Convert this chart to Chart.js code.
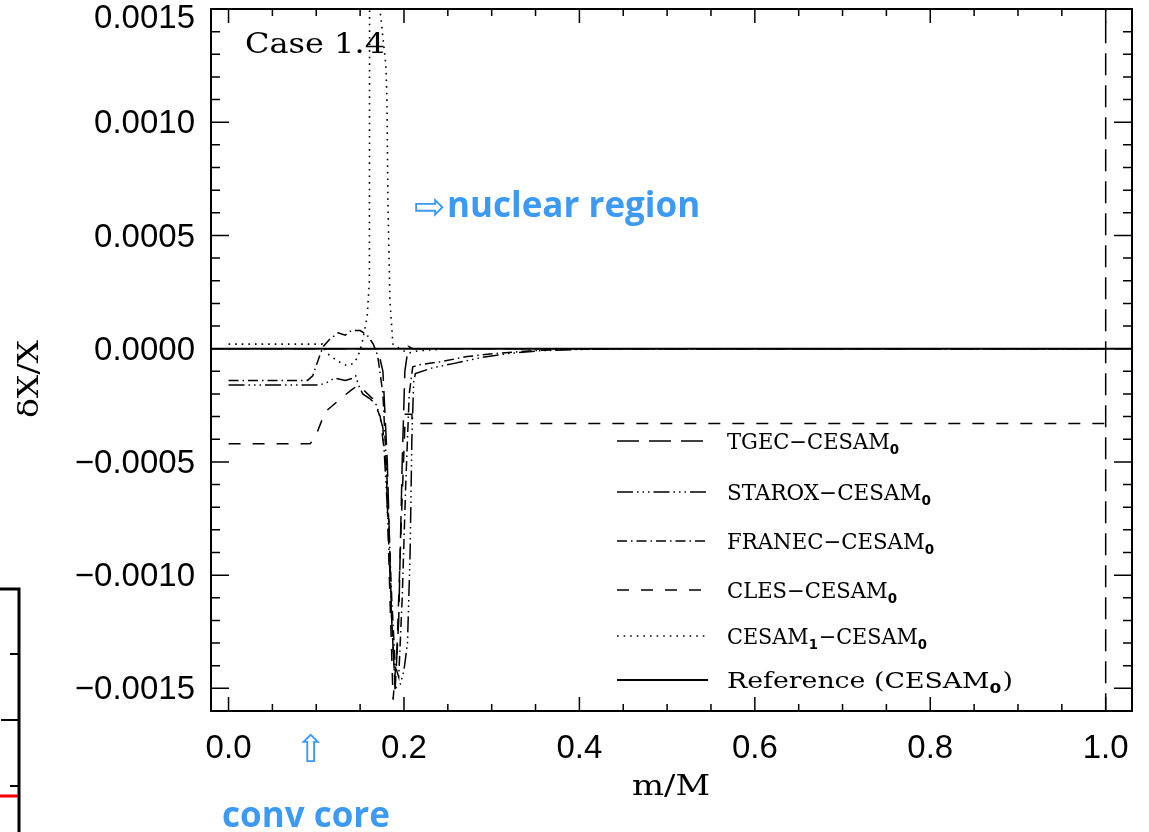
<!DOCTYPE html>
<html>
<head>
<meta charset="utf-8">
<script src="https://cdn.jsdelivr.net/npm/chart.js@4.4.1/dist/chart.umd.min.js"></script>
<style>
  html, body { margin: 0; padding: 0; background: #fff; }
  #wrap { width: 1149px; height: 832px; position: relative; }
</style>
</head>
<body>
<div id="wrap"><canvas id="chart" width="1149" height="832"></canvas></div>
<script>
// m/M and dX/X (Case 1.4)
var xRef = [-0.02, 1.03];
var yRef = [0, 0];

// null breaks the line so the surface spike is one clean vertical
var xTgec = [0, 0.17, 0.176, 0.181, 0.186, 0.19, 0.194, 0.198, 0.201, 0.205, 0.21, 0.999, 1.0, 1.0, 1.0];
var yTgec = [0, 0, -0.0001, -0.0005, -0.0012, -0.0015, -0.0012, -0.0005, -0.0001, 0.00001, 0, 0, null, 0.003, -0.003];

var xStarox = [0, 0.104, 0.112, 0.121, 0.133, 0.142, 0.145, 0.148, 0.153, 0.161, 0.169, 0.171, 0.176, 0.181, 0.186, 0.19, 0.196, 0.2, 0.204, 0.207, 0.209, 0.211, 0.213, 0.233, 0.256, 0.287, 0.318, 0.355, 0.393, 0.45, 1.0];
var yStarox = [-0.00016, -0.00016, -0.00015, -0.00013, -0.00014, -0.00013, -0.00012, -0.00016, -0.0002, -0.00022, -0.00025, -0.00028, -0.00035, -0.0007, -0.0012, -0.0015, -0.00148, -0.00142, -0.0013, -0.0009, -0.0004, -0.00015, -0.00011, -0.000084, -0.000066, -0.00004, -0.000022, -0.000009, -0.000004, 0, 0];

var xFranec = [0, 0.09, 0.096, 0.104, 0.108, 0.115, 0.125, 0.133, 0.14, 0.15, 0.158, 0.165, 0.17, 0.176, 0.181, 0.186, 0.19, 0.194, 0.198, 0.202, 0.206, 0.21, 0.218, 0.241, 0.272, 0.302, 0.346, 0.378, 0.424, 1.0];
var yFranec = [-0.00014, -0.00014, -0.00012, -0.00003, 0.00001, 0.00004, 0.00007, 0.00006, 0.00008, 0.00008, 0.00006, 0.00002, -0.00003, -0.0002, -0.0006, -0.0011, -0.0014, -0.00145, -0.0011, -0.0006, -0.0002, -0.00008, -0.000071, -0.000058, -0.000035, -0.000022, -0.000009, -0.000004, 0, 0];

var xCles = [0, 0.093, 0.099, 0.11, 0.131, 0.141, 0.148, 0.156, 0.164, 0.173, 0.18, 0.184, 0.1876, 0.192, 0.197, 0.2015, 0.209, 0.2095, 1.0];
var yCles = [-0.00042, -0.00042, -0.00039, -0.00028, -0.00021, -0.00018, -0.00016, -0.00019, -0.00022, -0.0003, -0.00054, -0.0011, -0.00155, -0.00133, -0.00076, -0.00029, -0.00029, -0.00033, -0.00033];

var xCesam1 = [0, 0.107, 0.112, 0.119, 0.127, 0.135, 0.142, 0.147, 0.152, 0.155, 0.158, 0.1606, 0.1608, 0.163, 0.168, 0.1726, 0.1794, 0.1806, 0.1817, 0.184, 0.1874, 0.195, 0.205, 0.215, 0.25, 1.0];
var yCesam1 = [0.00002, 0.00002, -0.00002, -0.00004, -0.00006, -0.000075, -0.000066, -0.00004, 0.00002, 0.00008, 0.00014, 0.0003, 0.0015, 0.0022, 0.0024, 0.0015, 0.00125, 0.0011, 0.00065, 0.00021, 0.00002, 0, -0.00002, -0.00001, 0, 0];

var seriesNames = ['TGEC\u2212CESAM_0', 'STAROX\u2212CESAM_0', 'FRANEC\u2212CESAM_0', 'CLES\u2212CESAM_0', 'CESAM_1\u2212CESAM_0', 'Reference (CESAM_0)'];
var xTicks = [0, 0.2, 0.4, 0.6, 0.8, 1.0];
var yTicks = [-0.0015, -0.0010, -0.0005, 0, 0.0005, 0.0010, 0.0015];

function pairs(xs, ys) {
  return xs.map(function (x, i) { return { x: x, y: ys[i] }; });
}

function fmtY(v) {
  var t = Math.abs(v).toFixed(4);
  return v < -1e-9 ? '\u2212' + t : t;
}

var BLUE = '#3d9af2';
var legendRowY = [441, 492, 541, 590, 636, 680];
var legendTextW = [173, 205, 208, 171, 201, 286];

// draw text squeezed/stretched to a given width (the original uses wide vector fonts)
function stretchText(c, text, x, y, width) {
  var w = c.measureText(text).width;
  c.save();
  c.translate(x, y);
  c.scale(width / w, 1);
  c.fillText(text, 0, 0);
  c.restore();
}

// "CESAM_1-CESAM_0" -> small subscripts
function subText(c, label, x, y, width) {
  var parts = label.split(/_(\d)/);
  var big = '22px "DejaVu Serif"', small = 'bold 14px "DejaVu Sans"';
  var total = 0, i;
  for (i = 0; i < parts.length; i++) {
    if (!parts[i]) continue;
    c.font = i % 2 ? small : big;
    total += c.measureText(parts[i]).width + (i % 2 ? 1 : 0);
  }
  c.save();
  c.translate(x, y);
  c.scale(width / total, 1);
  var cx = 0;
  for (i = 0; i < parts.length; i++) {
    if (!parts[i]) continue;
    c.font = i % 2 ? small : big;
    c.fillText(parts[i], cx, i % 2 ? 5 : 0);
    cx += c.measureText(parts[i]).width + (i % 2 ? 1 : 0);
  }
  c.restore();
}

var decor = {
  id: 'decor',
  afterDatasetsDraw: function (chart) {
    var c = chart.ctx, a = chart.chartArea;
    var xs = chart.scales.x, ys = chart.scales.y;
    c.save();
    c.strokeStyle = '#000';
    c.fillStyle = '#000';
    c.setLineDash([]);

    // box
    c.lineWidth = 2;
    c.strokeRect(a.left, a.top, a.right - a.left, a.bottom - a.top);

    // tick marks on all four sides
    c.lineWidth = 1.5;
    c.beginPath();
    for (var i = 0; i <= 20; i++) {
      var p = xs.getPixelForValue(i * 0.05);
      var len = i % 4 === 0 ? 14 : 7;
      c.moveTo(p, a.bottom); c.lineTo(p, a.bottom - len);
      c.moveTo(p, a.top); c.lineTo(p, a.top + len);
    }
    for (var j = -16; j <= 15; j++) {
      var q = ys.getPixelForValue(j * 0.0001);
      var ln = j % 5 === 0 ? 18 : 9;
      c.moveTo(a.left, q); c.lineTo(a.left + ln, q);
      c.moveTo(a.right, q); c.lineTo(a.right - ln, q);
    }
    c.stroke();

    // y tick labels
    c.font = '33px "Liberation Sans"';
    c.textAlign = 'right';
    c.textBaseline = 'middle';
    yTicks.forEach(function (v) {
      var yy = Math.max(ys.getPixelForValue(v) + 2, 19);
      c.fillText(fmtY(v), a.left - 16, yy);
    });

    // axis titles
    c.textAlign = 'left';
    c.textBaseline = 'alphabetic';
    c.font = '27px "DejaVu Serif"';
    stretchText(c, 'm/M', 632, 795, 78);
    c.save();
    c.translate(38, 418);
    c.rotate(-Math.PI / 2);
    stretchText(c, '\u03b4X/X', 0, 0, 78);
    c.restore();

    c.font = '27px "DejaVu Serif"';
    stretchText(c, 'Case 1.4', 245, 53, 140);

    // legend
    chart.data.datasets.forEach(function (ds, k) {
      c.strokeStyle = '#000';
      c.lineWidth = ds.borderWidth;
      c.setLineDash(ds.borderDash || []);
      c.beginPath();
      c.moveTo(617, legendRowY[k]);
      c.lineTo(708, legendRowY[k]);
      c.stroke();
      c.setLineDash([]);
      subText(c, ds.label, 727, legendRowY[k] + 8, legendTextW[k]);
    });

    // blue notes
    c.fillStyle = BLUE;
    c.font = '38px "DejaVu Sans"';
    c.fillText('\u21e8', 414, 219);
    c.fillText('\u21e7', 295, 762);
    c.font = 'bold 35px "Open Sans"';
    c.fillText('nuclear region', 447, 217);
    c.fillText('conv core', 222, 827);

    // edge of the neighbouring panel
    c.strokeStyle = '#000';
    c.lineWidth = 3;
    c.beginPath();
    c.moveTo(0, 589); c.lineTo(19, 589); c.lineTo(19, 832);
    c.stroke();
    c.lineWidth = 2;
    c.beginPath();
    c.moveTo(10, 654); c.lineTo(19, 654);
    c.moveTo(1, 720); c.lineTo(19, 720);
    c.moveTo(10, 786); c.lineTo(19, 786);
    c.stroke();
    c.strokeStyle = '#ff0000';
    c.lineWidth = 3;
    c.beginPath();
    c.moveTo(0, 796); c.lineTo(18, 796);
    c.stroke();

    c.restore();
  }
};

Chart.defaults.color = '#000';
Chart.defaults.font.family = '"Liberation Sans", Arial, sans-serif';

var ctx = document.getElementById('chart').getContext('2d');
var chart = new Chart(ctx, {
  type: 'line',
  data: {
    datasets: [
      { label: seriesNames[0], data: pairs(xTgec, yTgec), borderColor: '#000', borderWidth: 1.5, borderDash: [22, 10] },
      { label: seriesNames[1], data: pairs(xStarox, yStarox), borderColor: '#000', borderWidth: 1.5, borderDash: [16, 4, 1.5, 4, 1.5, 4, 1.5, 4] },
      { label: seriesNames[2], data: pairs(xFranec, yFranec), borderColor: '#000', borderWidth: 1.5, borderDash: [10, 4, 1.5, 4] },
      { label: seriesNames[3], data: pairs(xCles, yCles), borderColor: '#000', borderWidth: 1.5, borderDash: [12, 12] },
      { label: seriesNames[4], data: pairs(xCesam1, yCesam1), borderColor: '#000', borderWidth: 1.6, borderDash: [1.6, 5] },
      { label: seriesNames[5], data: pairs(xRef, yRef), borderColor: '#000', borderWidth: 2 }
    ]
  },
  options: {
    responsive: false,
    animation: false,
    events: [],
    spanGaps: false,
    elements: { point: { radius: 0 }, line: { tension: 0, fill: false } },
    layout: { padding: { left: 0, top: 9, right: 17, bottom: 0 } },
    plugins: { legend: { display: false }, tooltip: { enabled: false } },
    scales: {
      x: {
        type: 'linear',
        min: -0.02,
        max: 1.03,
        grid: { display: false, drawTicks: false },
        border: { display: false },
        afterBuildTicks: function (s) { s.ticks = xTicks.map(function (v) { return { value: v }; }); },
        afterFit: function (s) { s.height = 121; s.paddingLeft = 0; s.paddingRight = 0; },
        ticks: {
          autoSkip: false,
          maxRotation: 0,
          padding: 18,
          font: { size: 33 },
          callback: function (v) { return Number(v).toFixed(1); }
        }
      },
      y: {
        min: -0.0016,
        max: 0.0015,
        grid: { display: false, drawTicks: false },
        border: { display: false },
        afterBuildTicks: function (s) { s.ticks = yTicks.map(function (v) { return { value: v }; }); },
        afterFit: function (s) { s.width = 211; s.paddingTop = 0; s.paddingBottom = 0; },
        ticks: { display: false }
      }
    }
  },
  plugins: [decor]
});
</script>
</body>
</html>
